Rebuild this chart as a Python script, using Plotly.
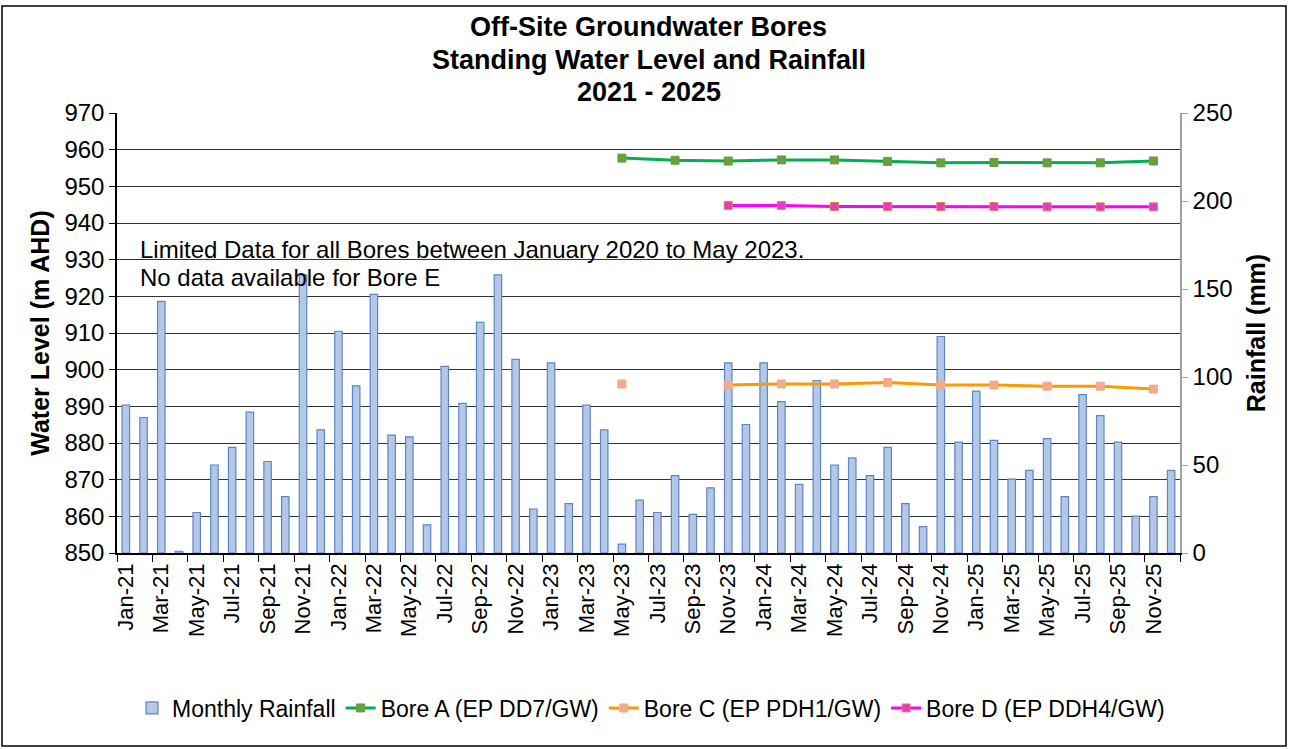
import plotly.graph_objects as go

# months Jan-21 .. Dec-25
months = [f"{m}-{y}" for y in ["21", "22", "23", "24", "25"]
          for m in ["Jan", "Feb", "Mar", "Apr", "May", "Jun",
                    "Jul", "Aug", "Sep", "Oct", "Nov", "Dec"]]

rainfall_mm = [
    84, 77, 143, 1, 23, 50, 60, 80, 52, 32, 158, 70,
    126, 95, 147, 67, 66, 16, 106, 85, 131, 158, 110, 25,
    108, 28, 84, 70, 5, 30, 23, 44, 22, 37, 108, 73,
    108, 86, 39, 98, 50, 54, 44, 60, 28, 15, 123, 63,
    92, 64, 42, 47, 65, 32, 90, 78, 63, 21, 32, 47,
]

# quarterly dip readings (m AHD)
dip_months = ["May-23", "Aug-23", "Nov-23", "Feb-24", "May-24", "Aug-24",
              "Nov-24", "Feb-25", "May-25", "Aug-25", "Nov-25"]
bore_a = [957.7, 957.1, 956.9, 957.2, 957.2, 956.8, 956.4, 956.5, 956.4, 956.4, 956.9]
bore_c = [896.1, None, 895.8, 896.1, 896.1, 896.5, 895.8, 895.8, 895.5, 895.5, 894.7]
bore_d = [None, None, 944.8, 944.8, 944.5, 944.5, 944.5, 944.5, 944.4, 944.4, 944.4]

FONT = "Liberation Sans, Arial, sans-serif"

fig = go.Figure()

fig.add_trace(go.Bar(
    x=months, y=rainfall_mm, name="Monthly Rainfall",
    marker=dict(color="#B4C7E7", line=dict(color="#5B86C8", width=1.2)),
    width=0.42, yaxis="y",
))

bores = [
    ("Bore A (EP DD7/GW)", bore_a, "#00B050", "#6A9E3E", "#6A9E3E"),
    ("Bore C (EP PDH1/GW)", bore_c, "#FF9900", "#F4AA8C", "#F4AA8C"),
    ("Bore D (EP DDH4/GW)", bore_d, "#FF00FF", "#E03CC8", "#E8804A"),
]
for name, vals, lc, mc, mlc in bores:
    fig.add_trace(go.Scatter(
        x=dip_months, y=vals, name=name, yaxis="y2", mode="lines+markers",
        line=dict(color=lc, width=3), connectgaps=False,
        marker=dict(symbol="square", size=8, color=mc, line=dict(color=mlc, width=1)),
    ))

fig.update_layout(
    width=1290, height=749,
    margin=dict(l=117, r=110, t=113, b=196),
    paper_bgcolor="white", plot_bgcolor="white",
    font=dict(family=FONT, color="black", size=20),
    showlegend=True,
    legend=dict(orientation="h", xref="container", yref="container",
                x=651 / 1290, xanchor="center", y=1 - 708 / 749, yanchor="middle",
                font=dict(size=23), itemwidth=30, traceorder="normal"),
    xaxis=dict(
        type="category", categoryorder="array", categoryarray=months,
        range=[-0.5, len(months) - 0.5],
        tickmode="linear", tick0=0, dtick=2, tickson="boundaries",
        ticks="outside", ticklen=7, tickcolor="black",
        tickangle=-90, tickfont=dict(size=22),
        showline=True, linecolor="black", linewidth=1.5, showgrid=False,
    ),
    yaxis=dict(
        title=dict(text="<b>Rainfall (mm)</b>", font=dict(size=25), standoff=16),
        side="right", range=[0, 250], dtick=50,
        ticks="outside", ticklen=6, tickcolor="#A0A0A0",
        showline=True, linecolor="#A0A0A0", linewidth=1.5, showgrid=False,
        tickfont=dict(size=24), zeroline=False,
    ),
    yaxis2=dict(
        title=dict(text="<b>Water Level (m AHD)</b>", font=dict(size=25), standoff=8),
        side="left", overlaying="y", range=[850, 970], dtick=10,
        ticks="outside", ticklen=6, tickcolor="black",
        showline=True, linecolor="black", linewidth=1.5,
        showgrid=True, gridcolor="#333333", gridwidth=1,
        tickfont=dict(size=24), zeroline=False,
    ),
)

title_lines = ["Off-Site Groundwater Bores", "Standing Water Level and Rainfall", "2021 - 2025"]
for i, line in enumerate(title_lines):
    fig.add_annotation(text=f"<b>{line}</b>", xref="paper", yref="paper",
                       x=0.5, y=(553 - 27 - 32.5 * i) / 440, xanchor="center", yanchor="middle",
                       showarrow=False, font=dict(size=27))

notes = ["Limited Data for all Bores between January 2020 to May 2023.",
         "No data available for Bore E"]
for i, line in enumerate(notes):
    fig.add_annotation(text=line, xref="paper", yref="paper",
                       x=(138 - 117) / 1063, y=(553 - 249 - 28 * i) / 440,
                       xanchor="left", yanchor="middle", showarrow=False,
                       font=dict(size=24))

# outer chart frame
fig.add_shape(type="rect", xref="paper", yref="paper",
              x0=(2 - 117) / 1063, x1=(1286 - 117) / 1063,
              y0=(553 - 746) / 440, y1=(553 - 6) / 440,
              line=dict(color="black", width=1.5), layer="below")

fig.write_html("out.html", config={"displayModeBar": False},
               post_script="document.body.style.margin='0';")
